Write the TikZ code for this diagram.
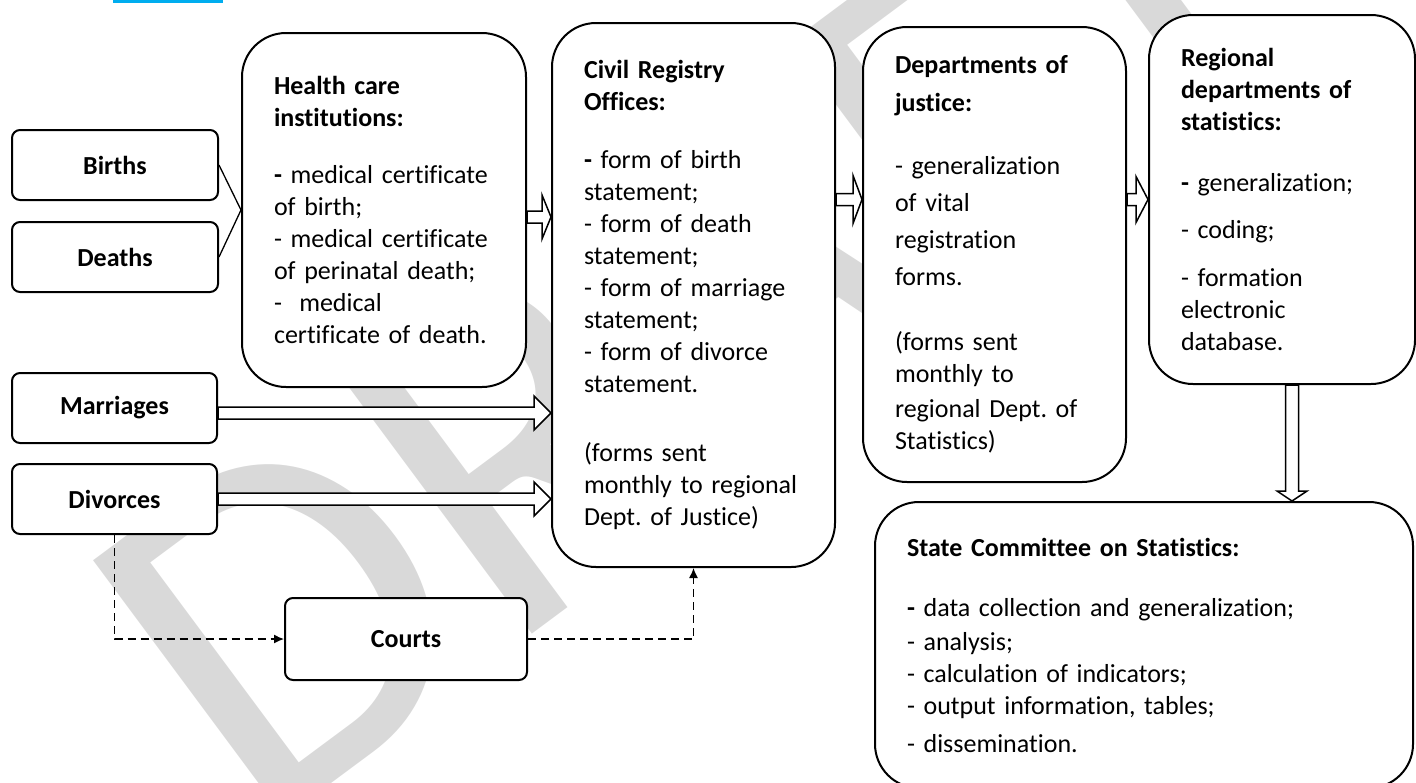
\documentclass[tikz,border=0pt]{standalone}
\usepackage{fontspec}
\setmainfont{Carlito}[Ligatures=NoCommon]
\frenchspacing
\usetikzlibrary{positioning,calc,arrows.meta}
\definecolor{wm}{gray}{0.85}

\newcommand{\fatarrow}[5]{%
  \path ($(#2)!#5!(#1)$) coordinate (fa-b);
  \draw[fat] ($(#1)!#3!-90:(#2)$) -- ($(fa-b)!#3!-90:(#2)$) -- ($(fa-b)!#4!-90:(#2)$) -- (#2)
    -- ($(fa-b)!#4!90:(#2)$) -- ($(fa-b)!#3!90:(#2)$) -- ($(#1)!#3!90:(#2)$) -- cycle;
}

\begin{document}
\begin{tikzpicture}[x=0.5pt,y=-0.5pt,line width=1pt,>={Latex[length=5pt,width=4.5pt]},font=\fontsize{13pt}{16pt}\selectfont]
\tikzstyle{box}=[draw,fill=white,rounded corners=22pt,align=left,inner xsep=16pt]
\tikzstyle{small}=[draw,fill=white,rounded corners=4pt,font=\fontsize{13pt}{16pt}\selectfont\bfseries]
\tikzstyle{fat}=[draw,fill=white,line width=0.75pt]
\tikzstyle{link}=[->,dash pattern=on 4pt off 2.5pt,line width=0.65pt]

\useasboundingbox (0,0) rectangle (1416,782);
\fill[cyan] (113,0) rectangle (223,3);
\node[text=wm,rotate=36.6,font=\fontsize{250pt}{250pt}\selectfont] (draft) at (700,310) {DRAFT};

\node[small,minimum width=103pt,minimum height=35pt] (bir) at (115,165) {Births};
\node[small,minimum width=103pt,minimum height=35pt] (dea) [below=10pt of bir] {Deaths};
\node[small,minimum width=102.5pt,minimum height=35pt] (mar) at (114.5,408) {Marriages};
\node[small,minimum width=102.5pt,minimum height=35pt] (div) [below=9.5pt of mar] {Divorces};
\node[small,minimum width=121pt,minimum height=41pt] (crt) at (406,639) {Courts};

\node[box,text width=110pt,minimum width=142pt,minimum height=177pt] (hc) at (384,210)
  {\textbf{Health care}\\\textbf{institutions:}\\[12.5pt]\textbf{-} medical certificate\\of birth;\\- medical certificate\\of perinatal death;\\-\ \ medical\\certificate of death.};
\node[box,text width=109.5pt,minimum width=141.5pt,minimum height=272pt] (civ) at (693.5,295)
  {\textbf{Civil Registry}\\\textbf{Offices:}\\[13pt]\textbf{-} form of birth\\statement;\\- form of death\\statement;\\- form of marriage\\statement;\\- form of divorce\\statement.\\[18.5pt](forms sent\\monthly to regional\\Dept. of Justice)};
\node[box,text width=99.5pt,minimum width=131.5pt,minimum height=227.5pt] (jus) at (994.5,254.5)
  {\textbf{Departments of}\\[3pt]\textbf{justice:}\\[15.5pt]- generalization\\[2.5pt]of vital\\[2.5pt]registration\\[2.5pt]forms.\\[16.5pt](forms sent\\monthly to\\[1.5pt]regional Dept. of\\Statistics)};
\node[box,text width=101pt,minimum width=133pt,minimum height=184.5pt] (reg) at (1282,199.5)
  {\textbf{Regional}\\\textbf{departments of}\\\textbf{statistics:}\\[14.5pt]\textbf{-} generalization;\\[7.5pt]- coding;\\[8pt]- formation\\electronic\\database.};
\node[box,text width=237pt,minimum width=269pt,minimum height=143pt] (st) at (1144,645)
  {\textbf{State Committee on Statistics:}\\[14pt]\textbf{-} data collection and generalization;\\[1pt]- analysis;\\- calculation of indicators;\\- output information, tables;\\[3pt]- dissemination.};

\draw[line width=0.65pt] (bir.east) -- (hc.west) -- (dea.east);
\draw[link] (div.south) |- (crt.west);
\draw[link] (crt.east) -| (civ.south);

\coordinate (hc-out) at ([yshift=-3.5pt]hc.east);
\coordinate (civ-in) at (hc-out -| civ.west);
\coordinate (jus-out) at (jus.east |- reg.west);
\coordinate (civ-out) at (civ.east |- jus-out);
\coordinate (jus-in) at (jus.west |- jus-out);
\coordinate (mar-out) at ([yshift=-2.5pt]mar.east);
\coordinate (mar-in) at (mar-out -| civ.west);
\coordinate (div-in) at (div.east -| civ.west);
\coordinate (reg-out) at ([xshift=5pt]reg.south);
\coordinate (st-in) at (reg-out |- st.north);

\fatarrow{hc-out}{civ-in}{3pt}{11pt}{4.5pt}
\fatarrow{civ-out}{jus-in}{3pt}{12pt}{4.5pt}
\fatarrow{jus-out}{reg.west}{3pt}{11.5pt}{6pt}
\fatarrow{mar-out}{mar-in}{3pt}{8.5pt}{8.5pt}
\fatarrow{div.east}{div-in}{3pt}{8.5pt}{8.5pt}
\fatarrow{reg-out}{st-in}{3.25pt}{7.5pt}{5pt}
\end{tikzpicture}
\end{document}
